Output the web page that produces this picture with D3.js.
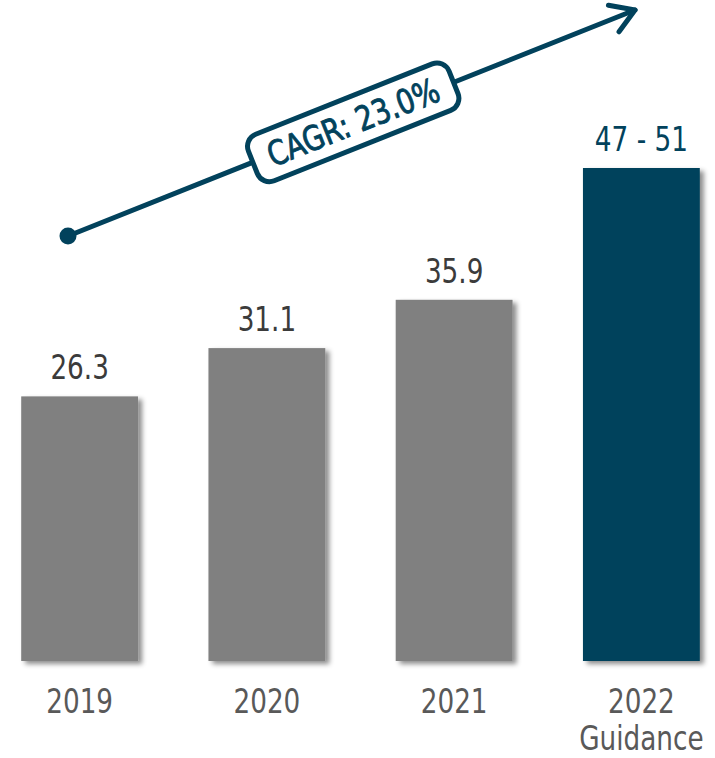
<!DOCTYPE html>
<html>
<head>
<meta charset="utf-8">
<script src="https://cdn.jsdelivr.net/npm/d3@7"></script>
<style>
  html, body { margin: 0; padding: 0; background: #fff; }
  svg { display: block; }
</style>
</head>
<body>
<svg id="chart"></svg>
<script>
// values
var years = ["2019", "2020", "2021", "2022"];
var subLabels = ["", "", "", "Guidance"];
var values = [26.3, 31.1, 35.9, null];
var guidance = [47, 51];
var cagr = "CAGR: 23.0%";

var width = 715, height = 758;
var teal = "#02425c", grey = "#808080";
var font = "'DejaVu Sans Condensed', 'DejaVu Sans', sans-serif";
var squeeze = 0.86; // the source font is narrower than DejaVu

// guidance bar drawn at the midpoint of the range
var barValues = values.map(function (v) { return v == null ? (guidance[0] + guidance[1]) / 2 : v; });
var barLabels = values.map(function (v, i) {
    return v == null ? guidance[0] + " - " + guidance[1] : d3.format(".1f")(v);
});

var svg = d3.select("#chart")
    .attr("width", width)
    .attr("height", height);

var defs = svg.append("defs");
var shadow = defs.append("filter")
    .attr("id", "shadow")
    .attr("x", "-10%").attr("y", "-10%")
    .attr("width", "130%").attr("height", "130%");
shadow.append("feDropShadow")
    .attr("dx", 4).attr("dy", 3)
    .attr("stdDeviation", 2.5)
    .attr("flood-color", "#000")
    .attr("flood-opacity", 0.45);

var xScale = d3.scaleBand()
    .domain(years)
    .range([-14, 735])
    .paddingInner(0.376)
    .paddingOuter(0.188);

var yScale = d3.scaleLinear()
    .domain([0, 49])
    .range([661, 168]);

var g = svg.append("g");

g.selectAll(".bar")
    .data(years)
    .enter()
    .append("rect")
    .attr("class", "bar")
    .attr("x", function (d) { return xScale(d); })
    .attr("y", function (d, i) { return yScale(barValues[i]); })
    .attr("width", xScale.bandwidth())
    .attr("height", function (d, i) { return yScale(0) - yScale(barValues[i]); })
    .attr("fill", function (d, i) { return values[i] == null ? teal : grey; })
    .attr("filter", "url(#shadow)");

// value labels above the bars
g.selectAll(".value")
    .data(years)
    .enter()
    .append("text")
    .attr("class", "value")
    .attr("transform", function (d, i) {
        return "translate(" + (xScale(d) + xScale.bandwidth() / 2) + "," + (yScale(barValues[i]) - 17) + ") scale(" + squeeze + ",1)";
    })
    .attr("text-anchor", "middle")
    .attr("font-family", font)
    .attr("font-size", 34)
    .attr("fill", function (d, i) { return values[i] == null ? teal : "#3b3b3b"; })
    .text(function (d, i) { return barLabels[i]; });

// category axis, no line or ticks
var xAxis = g.append("g")
    .attr("transform", "translate(0,661)")
    .call(d3.axisBottom(xScale).tickSize(0).tickPadding(0).tickFormat(""));
xAxis.select(".domain").remove();

xAxis.selectAll(".tick").each(function (d, i) {
    var t = d3.select(this).append("text")
        .attr("transform", "scale(" + squeeze + ",1)")
        .attr("text-anchor", "middle")
        .attr("font-family", font)
        .attr("font-size", 34)
        .attr("fill", "#595959");
    t.append("tspan").attr("x", 0).attr("y", 52).text(d);
    if (subLabels[i]) {
        t.append("tspan").attr("x", 0).attr("y", 89).text(subLabels[i]);
    }
});

// CAGR arrow
var start = [68, 236], tip = [635, 10];
var ang = Math.atan2(tip[1] - start[1], tip[0] - start[0]);
var deg = ang * 180 / Math.PI;

var arrow = svg.append("g")
    .attr("stroke", teal)
    .attr("fill", "none")
    .attr("stroke-width", 5)
    .attr("stroke-linecap", "round")
    .attr("stroke-linejoin", "round");

arrow.append("line")
    .attr("x1", start[0]).attr("y1", start[1])
    .attr("x2", tip[0]).attr("y2", tip[1]);

var wing = 27, spread = 32 * Math.PI / 180;
var back = ang + Math.PI;
arrow.append("path")
    .attr("d", d3.line()([
        [tip[0] + wing * Math.cos(back - spread), tip[1] + wing * Math.sin(back - spread)],
        tip,
        [tip[0] + wing * Math.cos(back + spread), tip[1] + wing * Math.sin(back + spread)]
    ]));

svg.append("circle")
    .attr("cx", start[0]).attr("cy", start[1])
    .attr("r", 8.5)
    .attr("fill", teal);

// label box on the arrow
var t = 0.503;
var cx = start[0] + (tip[0] - start[0]) * t,
    cy = start[1] + (tip[1] - start[1]) * t;
var box = svg.append("g")
    .attr("transform", "translate(" + cx + "," + cy + ") rotate(" + deg + ")");

box.append("rect")
    .attr("x", -108).attr("y", -25)
    .attr("width", 216).attr("height", 50)
    .attr("rx", 13)
    .attr("fill", "#fff")
    .attr("stroke", teal)
    .attr("stroke-width", 5);

box.append("text")
    .attr("transform", "translate(0,12) scale(0.9,1)")
    .attr("text-anchor", "middle")
    .attr("font-family", font)
    .attr("font-size", 34)
    .attr("fill", teal)
    .attr("stroke", teal)
    .attr("stroke-width", 0.9)
    .text(cagr);
</script>
</body>
</html>
